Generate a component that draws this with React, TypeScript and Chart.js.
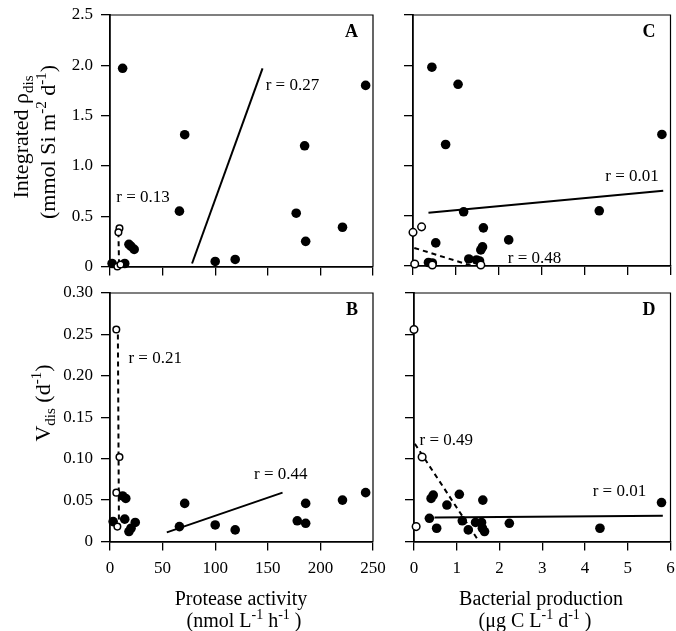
import React, { useEffect, useRef } from "react";
import { Chart, registerables } from "chart.js";

Chart.register(...registerables);

const FONT = "'Liberation Serif', 'Times New Roman', Times, serif";

// ---------------- DATA ----------------
// Tick values and labels
const proteaseTicks = [0, 50, 100, 150, 200, 250];
const proteaseTickLabels = ["0", "50", "100", "150", "200", "250"];
const bactTicks = [0, 1, 2, 3, 4, 5, 6];
const bactTickLabels = ["0", "1", "2", "3", "4", "5", "6"];
const rhoTicks = [0, 0.5, 1.0, 1.5, 2.0, 2.5];
const rhoTickLabels = ["0", "0.5", "1.0", "1.5", "2.0", "2.5"];
const vTicks = [0, 0.05, 0.1, 0.15, 0.2, 0.25, 0.3];
const vTickLabels = ["0", "0.05", "0.10", "0.15", "0.20", "0.25", "0.30"];

// Panel A: protease activity vs integrated rho_dis
const aFilledX = [12, 71, 66, 100, 119, 177, 185, 186, 221, 243, 2, 14, 18, 20, 23];
const aFilledY = [1.97, 1.31, 0.55, 0.05, 0.07, 0.53, 1.2, 0.25, 0.39, 1.8, 0.03, 0.03, 0.22, 0.2, 0.17];
const aOpenX = [9, 8, 7, 10];
const aOpenY = [0.38, 0.34, 0.0, 0.02];
const aSolidX = [78, 145];
const aSolidY = [0.03, 1.97];
const aDashX = [8, 8.6];
const aDashY = [0.34, 0.02];

// Panel B: protease activity vs V_dis
const bFilledX = [12, 15, 3, 14, 18, 20, 24, 71, 66, 100, 119, 178, 186, 186, 221, 243];
const bFilledY = [0.055, 0.052, 0.024, 0.027, 0.012, 0.016, 0.023, 0.046, 0.018, 0.02, 0.014, 0.025, 0.022, 0.046, 0.05, 0.059];
const bOpenX = [6, 9, 6, 7];
const bOpenY = [0.256, 0.102, 0.059, 0.018];
const bSolidX = [54, 164];
const bSolidY = [0.011, 0.059];
const bDashX = [7.5, 8.5];
const bDashY = [0.25, 0.02];

// Panel C: bacterial production vs integrated rho_dis
const cFilledX = [0.44, 1.05, 0.76, 5.8, 1.18, 4.34, 1.64, 0.53, 2.23, 1.62, 1.58, 1.3, 1.48, 1.55, 0.36, 0.45];
const cFilledY = [1.98, 1.81, 1.21, 1.31, 0.54, 0.55, 0.38, 0.23, 0.26, 0.19, 0.16, 0.07, 0.06, 0.05, 0.035, 0.03];
const cOpenX = [0.0, 0.2, 0.04, 0.45, 1.58];
const cOpenY = [0.335, 0.39, 0.02, 0.01, 0.01];
const cSolidX = [0.36, 5.83];
const cSolidY = [0.53, 0.75];
const cDashX = [0.03, 1.35];
const cDashY = [0.18, 0.005];

// Panel D: bacterial production vs V_dis
const dFilledX = [0.4, 0.45, 1.06, 0.77, 1.61, 0.36, 0.53, 1.13, 1.27, 1.44, 1.58, 1.6, 1.65, 2.23, 4.35, 5.79];
const dFilledY = [0.052, 0.056, 0.057, 0.044, 0.05, 0.028, 0.016, 0.025, 0.014, 0.023, 0.023, 0.016, 0.012, 0.022, 0.016, 0.047];
const dOpenX = [0.0, 0.19, 0.05];
const dOpenY = [0.256, 0.102, 0.018];
const dSolidX = [0.48, 5.82];
const dSolidY = [0.029, 0.031];
const dDashX = [0.02, 1.47];
const dDashY = [0.118, 0.004];

// Correlation annotations: text, x, y (data units)
const aRText = ["r = 0.27", "r = 0.13"];
const aRX = [148, 6];
const aRY = [1.8, 0.69];
const bRText = ["r = 0.21", "r = 0.44"];
const bRX = [17.5, 137];
const bRY = [0.221, 0.081];
const cRText = ["r = 0.01", "r = 0.48"];
const cRX = [4.48, 2.21];
const cRY = [0.887, 0.073];
const dRText = ["r = 0.49", "r = 0.01"];
const dRX = [0.13, 4.18];
const dRY = [0.122, 0.06];

// ---------------- HELPERS ----------------
type Pt = { x: number; y: number };
const zip = (xs: number[], ys: number[]): Pt[] => xs.map((x, i) => ({ x, y: ys[i] }));

type Seg = { t: string; k?: "sup" | "sub" };

function drawRich(
  ctx: CanvasRenderingContext2D,
  segs: Seg[],
  x: number,
  y: number,
  size: number,
  vertical: boolean
) {
  ctx.save();
  ctx.translate(x, y);
  if (vertical) ctx.rotate(-Math.PI / 2);
  ctx.fillStyle = "#000";
  ctx.textAlign = "left";
  ctx.textBaseline = "alphabetic";
  const small = Math.round(size * 0.68);
  const fontOf = (s: Seg) => `${s.k ? small : size}px ${FONT}`;
  const widths = segs.map((s) => {
    ctx.font = fontOf(s);
    return ctx.measureText(s.t).width;
  });
  let cx = -widths.reduce((a, b) => a + b, 0) / 2;
  segs.forEach((s, i) => {
    ctx.font = fontOf(s);
    const dy = s.k === "sup" ? -size * 0.4 : s.k === "sub" ? size * 0.24 : 0;
    ctx.fillText(s.t, cx, dy);
    cx += widths[i];
  });
  ctx.restore();
}

interface Title {
  segs: Seg[];
  x: number;
  y: number;
  size: number;
  vertical: boolean;
}

interface Panel {
  box: { left: number; top: number; width: number; height: number };
  pad: { top: number; right: number };
  yAxisWidth: number;
  xAxisHeight: number;
  xMin: number;
  xMax: number;
  xTicks: number[];
  xLabels: string[] | null;
  yMin: number;
  yMax: number;
  yTicks: number[];
  yLabels: string[] | null;
  filled: Pt[];
  open: Pt[];
  solid: Pt[];
  dashed: Pt[];
  openRadius: number;
  rText: string[];
  rX: number[];
  rY: number[];
  letter: string;
  titles: Title[];
}

function makeScale(
  ticks: number[],
  labels: string[] | null,
  min: number,
  max: number,
  size: number,
  horizontal: boolean
) {
  return {
    type: "linear" as const,
    min,
    max,
    afterBuildTicks: (s: any) => {
      s.ticks = ticks.map((v) => ({ value: v }));
    },
    afterFit: (s: any) => {
      if (horizontal) s.height = size;
      else s.width = size;
      s.paddingLeft = 0;
      s.paddingRight = 0;
      s.paddingTop = 0;
      s.paddingBottom = 0;
    },
    ticks: {
      display: !!labels,
      autoSkip: false,
      maxRotation: 0,
      padding: 8,
      color: "#000",
      font: { family: FONT, size: 17 },
      callback: (_v: any, i: number) => (labels ? labels[i] : ""),
    },
    grid: {
      display: true,
      drawOnChartArea: false,
      drawTicks: true,
      tickLength: 9,
      color: "#000",
      lineWidth: 1.3,
    },
    border: { display: true, color: "#000", width: 1.8 },
  };
}

function decorPlugin(p: Panel) {
  return {
    id: "decor" + p.letter,
    afterDraw(chart: any) {
      const { ctx, chartArea: a, scales } = chart;
      ctx.save();
      ctx.strokeStyle = "#000";
      ctx.lineWidth = 1.2;
      ctx.beginPath();
      ctx.moveTo(a.left, a.top);
      ctx.lineTo(a.right, a.top);
      ctx.lineTo(a.right, a.bottom);
      ctx.stroke();
      ctx.fillStyle = "#000";
      ctx.font = `bold 18px ${FONT}`;
      ctx.textAlign = "right";
      ctx.textBaseline = "middle";
      ctx.fillText(p.letter, a.right - 15, a.top + 17);
      ctx.font = `17px ${FONT}`;
      ctx.textAlign = "left";
      p.rText.forEach((t, i) => {
        ctx.fillText(t, scales.x.getPixelForValue(p.rX[i]), scales.y.getPixelForValue(p.rY[i]));
      });
      ctx.restore();
      p.titles.forEach((t) => drawRich(ctx, t.segs, t.x, t.y, t.size, t.vertical));
    },
  };
}

function buildConfig(p: Panel): any {
  return {
    type: "scatter",
    data: {
      datasets: [
        {
          data: p.open,
          order: 0,
          pointRadius: p.openRadius,
          pointBackgroundColor: "#fff",
          pointBorderColor: "#000",
          pointBorderWidth: 1.5,
          clip: false,
        },
        {
          data: p.filled,
          order: 1,
          pointRadius: 4.8,
          pointBackgroundColor: "#000",
          pointBorderColor: "#000",
          pointBorderWidth: 0,
          clip: false,
        },
        {
          data: p.solid,
          order: 2,
          showLine: true,
          pointRadius: 0,
          borderColor: "#000",
          borderWidth: 2,
          clip: false,
        },
        {
          data: p.dashed,
          order: 2,
          showLine: true,
          pointRadius: 0,
          borderColor: "#000",
          borderWidth: 2,
          borderDash: [5, 4],
          clip: false,
        },
      ],
    },
    options: {
      animation: false,
      responsive: false,
      devicePixelRatio: 1,
      events: [],
      layout: { padding: { top: p.pad.top, right: p.pad.right, left: 0, bottom: 0 } },
      plugins: { legend: { display: false }, tooltip: { enabled: false } },
      scales: {
        x: makeScale(p.xTicks, p.xLabels, p.xMin, p.xMax, p.xAxisHeight, true),
        y: makeScale(p.yTicks, p.yLabels, p.yMin, p.yMax, p.yAxisWidth, false),
      },
    },
    plugins: [decorPlugin(p)],
  };
}

// ---------------- PANELS ----------------
const panels: Panel[] = [
  {
    box: { left: 0, top: 0, width: 390, height: 280 },
    pad: { top: 15, right: 17 },
    yAxisWidth: 110,
    xAxisHeight: 13.5,
    xMin: 0,
    xMax: 250,
    xTicks: proteaseTicks,
    xLabels: null,
    yMin: 0,
    yMax: 2.5,
    yTicks: rhoTicks,
    yLabels: rhoTickLabels,
    filled: zip(aFilledX, aFilledY),
    open: zip(aOpenX, aOpenY),
    solid: zip(aSolidX, aSolidY),
    dashed: zip(aDashX, aDashY),
    openRadius: 3.3,
    rText: aRText,
    rX: aRX,
    rY: aRY,
    letter: "A",
    titles: [
      { segs: [{ t: "Integrated ρ" }, { t: "dis", k: "sub" }], x: 28, y: 137, size: 22, vertical: true },
      {
        segs: [{ t: "(mmol Si m" }, { t: "-2", k: "sup" }, { t: " d" }, { t: "-1", k: "sup" }, { t: ")" }],
        x: 55,
        y: 142,
        size: 22,
        vertical: true,
      },
    ],
  },
  {
    box: { left: 390, top: 0, width: 286, height: 280 },
    pad: { top: 15, right: 2 },
    yAxisWidth: 23,
    xAxisHeight: 14,
    xMin: 0,
    xMax: 6,
    xTicks: bactTicks,
    xLabels: null,
    yMin: 0,
    yMax: 2.5,
    yTicks: rhoTicks,
    yLabels: null,
    filled: zip(cFilledX, cFilledY),
    open: zip(cOpenX, cOpenY),
    solid: zip(cSolidX, cSolidY),
    dashed: zip(cDashX, cDashY),
    openRadius: 3.8,
    rText: cRText,
    rX: cRX,
    rY: cRY,
    letter: "C",
    titles: [],
  },
  {
    box: { left: 0, top: 280, width: 390, height: 351 },
    pad: { top: 13, right: 17 },
    yAxisWidth: 110,
    xAxisHeight: 89.5,
    xMin: 0,
    xMax: 250,
    xTicks: proteaseTicks,
    xLabels: proteaseTickLabels,
    yMin: 0,
    yMax: 0.3,
    yTicks: vTicks,
    yLabels: vTickLabels,
    filled: zip(bFilledX, bFilledY),
    open: zip(bOpenX, bOpenY),
    solid: zip(bSolidX, bSolidY),
    dashed: zip(bDashX, bDashY),
    openRadius: 3.3,
    rText: bRText,
    rX: bRX,
    rY: bRY,
    letter: "B",
    titles: [
      {
        segs: [{ t: "V" }, { t: "dis", k: "sub" }, { t: " (d" }, { t: "-1", k: "sup" }, { t: ")" }],
        x: 50,
        y: 123,
        size: 22,
        vertical: true,
      },
      { segs: [{ t: "Protease activity" }], x: 241, y: 325, size: 20, vertical: false },
      {
        segs: [{ t: "(nmol L" }, { t: "-1", k: "sup" }, { t: " h" }, { t: "-1", k: "sup" }, { t: " )" }],
        x: 244,
        y: 347,
        size: 20,
        vertical: false,
      },
    ],
  },
  {
    box: { left: 390, top: 280, width: 286, height: 351 },
    pad: { top: 13, right: 1 },
    yAxisWidth: 24,
    xAxisHeight: 89.5,
    xMin: 0,
    xMax: 6,
    xTicks: bactTicks,
    xLabels: bactTickLabels,
    yMin: 0,
    yMax: 0.3,
    yTicks: vTicks,
    yLabels: null,
    filled: zip(dFilledX, dFilledY),
    open: zip(dOpenX, dOpenY),
    solid: zip(dSolidX, dSolidY),
    dashed: zip(dDashX, dDashY),
    openRadius: 3.8,
    rText: dRText,
    rX: dRX,
    rY: dRY,
    letter: "D",
    titles: [
      { segs: [{ t: "Bacterial production" }], x: 151, y: 325, size: 20, vertical: false },
      {
        segs: [{ t: "(μg C L" }, { t: "-1", k: "sup" }, { t: " d" }, { t: "-1", k: "sup" }, { t: " )" }],
        x: 145,
        y: 347,
        size: 20,
        vertical: false,
      },
    ],
  },
];

function PanelChart({ p }: { p: Panel }) {
  const ref = useRef<HTMLCanvasElement>(null);
  useEffect(() => {
    if (!ref.current) return;
    const chart = new Chart(ref.current, buildConfig(p));
    return () => chart.destroy();
  }, [p]);
  return (
    <canvas
      ref={ref}
      width={p.box.width}
      height={p.box.height}
      style={{
        position: "absolute",
        left: p.box.left,
        top: p.box.top,
        width: p.box.width,
        height: p.box.height,
      }}
    />
  );
}

export default function App() {
  return (
    <div
      style={{
        position: "absolute",
        left: 0,
        top: 0,
        width: 676,
        height: 631,
        background: "#fff",
        overflow: "hidden",
      }}
    >
      {panels.map((p) => (
        <PanelChart key={p.letter} p={p} />
      ))}
    </div>
  );
}
